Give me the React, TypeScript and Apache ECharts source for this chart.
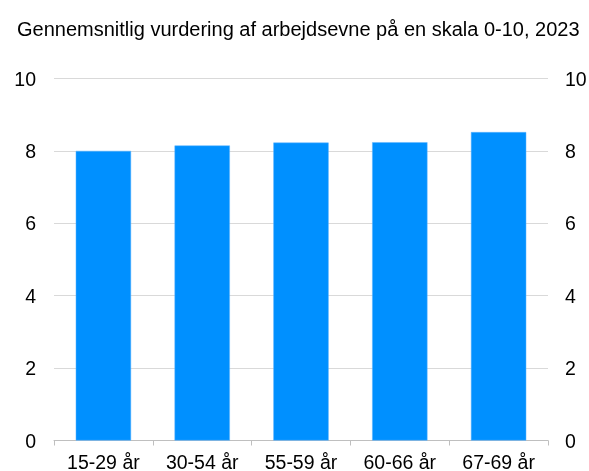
import React, { useEffect, useRef } from "react";
import * as echarts from "echarts";

const title = "Gennemsnitlig vurdering af arbejdsevne på en skala 0-10, 2023";
const categories = ["15-29 år", "30-54 år", "55-59 år", "60-66 år", "67-69 år"];
const values = [8.0, 8.15, 8.23, 8.24, 8.52];

export default function App() {
  const ref = useRef<HTMLDivElement>(null);
  useEffect(() => {
    if (!ref.current) return;
    const chart = echarts.init(ref.current, null, { renderer: "svg" });
    const font = "'Liberation Sans', Arial, sans-serif";
    const yAxisBase = {
      type: "value",
      min: 0,
      max: 10,
      interval: 2,
      axisLine: { show: false },
      axisTick: { show: false },
    };
    chart.setOption({
      animation: false,
      title: {
        text: title,
        left: 12,
        top: 14,
        textStyle: { fontSize: 20, fontWeight: "normal", color: "#000", fontFamily: font },
      },
      grid: {
        left: 54,
        right: 41,
        top: 78.5,
        bottom: 30.5,
        containLabel: false,
        outerBoundsMode: "none",
      },
      xAxis: {
        type: "category",
        data: categories,
        axisLine: { show: true, lineStyle: { color: "#bfbfbf", width: 1 } },
        axisTick: { show: true, length: 5, lineStyle: { color: "#bfbfbf" } },
        axisLabel: { color: "#000", fontSize: 19.5, fontFamily: font, margin: 11 },
      },
      yAxis: [
        {
          ...yAxisBase,
          position: "left",
          axisLabel: { color: "#000", fontSize: 19.5, fontFamily: font, margin: 18 },
          splitLine: { show: true, lineStyle: { color: "#d9d9d9", width: 1 } },
        },
        {
          ...yAxisBase,
          position: "right",
          axisLabel: { color: "#000", fontSize: 19.5, fontFamily: font, margin: 17 },
          splitLine: { show: false },
        },
      ],
      series: [
        {
          type: "bar",
          data: values,
          barWidth: "56%",
          itemStyle: { color: "#0090ff", borderColor: "#5fb5ff", borderWidth: 0.5 },
        },
      ],
    });
    return () => chart.dispose();
  }, []);
  return (
    <div
      ref={ref}
      style={{ position: "fixed", left: 0, top: 0, width: 589, height: 471 }}
    />
  );
}
